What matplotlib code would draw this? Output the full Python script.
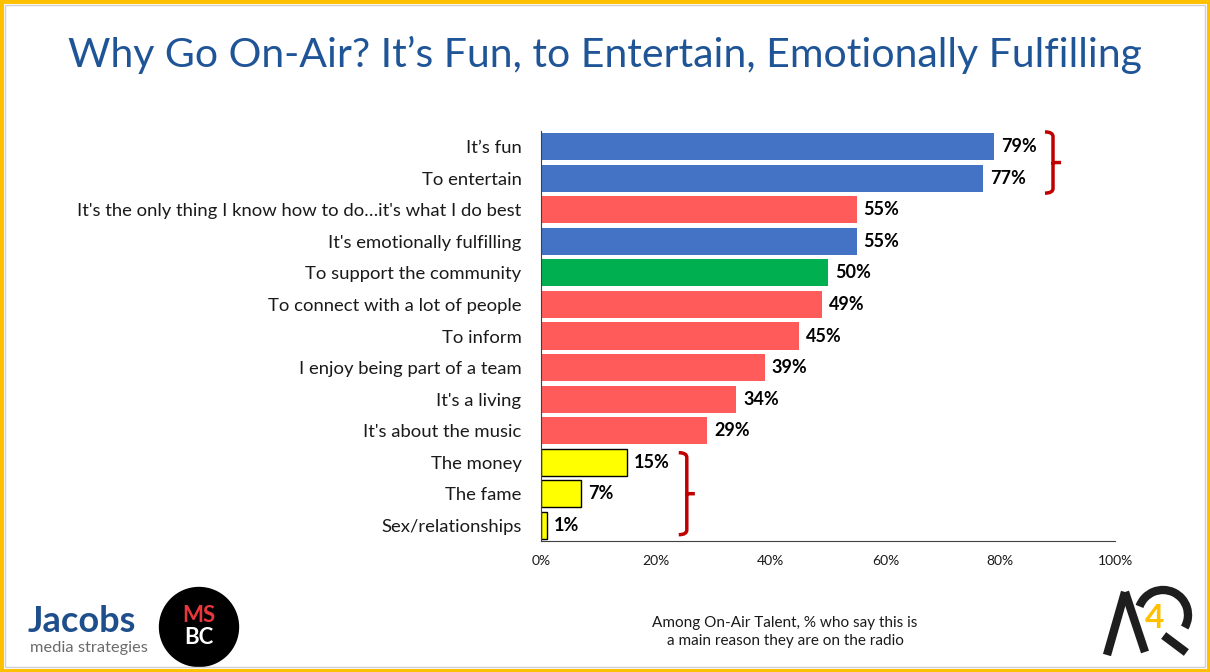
import matplotlib.pyplot as plt
from matplotlib.patches import Rectangle, Circle, Arc
from matplotlib.path import Path
from matplotlib.patches import PathPatch

plt.rcParams['font.family'] = ['Lato', 'DejaVu Sans']

# Data
reasons = ["It\u2019s fun", "To entertain",
           "It's the only thing I know how to do\u2026it's what I do best",
           "It's emotionally fulfilling", "To support the community",
           "To connect with a lot of people", "To inform",
           "I enjoy being part of a team", "It's a living",
           "It's about the music", "The money", "The fame",
           "Sex/relationships"]
values = [79, 77, 55, 55, 50, 49, 45, 39, 34, 29, 15, 7, 1]
groups = ['blue', 'blue', 'red', 'blue', 'green', 'red', 'red', 'red',
          'red', 'red', 'yellow', 'yellow', 'yellow']
ticks = [0, 20, 40, 60, 80, 100]

palette = {'blue': '#4472C4', 'red': '#FF5B5B', 'green': '#00B050',
           'yellow': '#FFFF00'}

fig = plt.figure(figsize=(12.1, 6.72), dpi=100)
W, H = 1210, 672

# border
fig.patches.append(Rectangle((0, 0), 1, 1, transform=fig.transFigure,
                             fill=False, edgecolor='#FFC000', linewidth=5))
fig.patches.append(Rectangle((5 / W, 5 / H), 1 - 10 / W, 1 - 10 / H,
                             transform=fig.transFigure, fill=False,
                             edgecolor='#D0D0D0', linewidth=1))

fig.text(0.5, 1 - 55 / H, "Why Go On-Air? It\u2019s Fun, to Entertain, Emotionally Fulfilling",
         ha='center', va='center', fontsize=29.5, color='#1F5597')

ax = fig.add_axes([541 / W, 1 - 541 / H, 574 / W, 410 / H])
y = list(range(len(reasons)))
for i, (v, g) in enumerate(zip(values, groups)):
    ax.barh(i, v, height=0.86, color=palette[g],
            edgecolor='black' if g == 'yellow' else 'none', linewidth=1)
    ax.text(v + 1.2, i, f"{v}%", va='center', ha='left', fontsize=13,
            fontweight='bold', color='black')

ax.set_ylim(len(reasons) - 0.5, -0.5)
ax.set_xlim(0, 100)
ax.set_yticks(y)
ax.set_yticklabels(reasons, fontsize=13.3, color='#1a1a1a')
ax.set_xticks(ticks)
ax.set_xticklabels([f"{t}%" for t in ticks], fontsize=10, color='#1a1a1a')
ax.tick_params(axis='y', length=0, pad=14)
ax.tick_params(axis='x', length=0, pad=10)
for s in ['top', 'right']:
    ax.spines[s].set_visible(False)
ax.spines['left'].set_color('#404040')
ax.spines['bottom'].set_color('#404040')


def bracket(ax, x, y0, y1, w):
    mid = (y0 + y1) / 2
    verts = [(x, y0), (x + w, y0), (x + w, y0 + 0.15),
             (x + w, mid - 0.1), (x + w, mid),
             (x + 2 * w, mid), (x + w, mid),
             (x + w, mid + 0.1), (x + w, y1 - 0.15),
             (x + w, y1), (x, y1)]
    codes = [Path.MOVETO, Path.CURVE3, Path.CURVE3, Path.LINETO, Path.LINETO,
             Path.LINETO, Path.MOVETO, Path.LINETO, Path.LINETO,
             Path.CURVE3, Path.CURVE3]
    ax.add_patch(PathPatch(Path(verts, codes), fill=False, edgecolor='#C00000',
                           linewidth=2.5, clip_on=False))


bracket(ax, values[0] + 8.8, -0.47, 1.47, 1.4)
bracket(ax, values[10] + 9.0, 9.7, 12.3, 1.4)

fig.text(785 / W, 1 - 632 / H,
         "Among On-Air Talent, % who say this is\na main reason they are on the radio",
         ha='center', va='center', fontsize=11, color='#1a1a1a', linespacing=1.3)

# logos (approximations)
fig.text(28 / W, 1 - 621 / H, "Jacobs", fontsize=26, fontweight='bold',
         color='#1F4E8C', ha='left', va='center')
fig.text(30 / W, 1 - 648 / H, "media strategies", fontsize=11.8,
         color='#6b6b6b', ha='left', va='center')

lax = fig.add_axes([158 / W, 1 - 668 / H, 82 / W, 82 / H])
lax.set_xlim(0, 1)
lax.set_ylim(0, 1)
lax.set_aspect('equal')
lax.axis('off')
lax.add_patch(Circle((0.5, 0.5), 0.49, facecolor='black'))
lax.text(0.5, 0.64, "MS", color='#E8383D', fontsize=16, fontweight='bold',
         ha='center', va='center')
lax.text(0.5, 0.37, "BC", color='white', fontsize=16, fontweight='bold',
         ha='center', va='center')

aax = fig.add_axes([1095 / W, 1 - 660 / H, 110 / W, 80 / H])
aax.set_xlim(0, 110)
aax.set_ylim(0, 80)
aax.axis('off')
aax.plot([12, 30], [5, 68], color='#1e1e1e', linewidth=6, solid_capstyle='butt')
aax.plot([30, 50], [68, 8], color='#1e1e1e', linewidth=6, solid_capstyle='butt')
aax.add_patch(Arc((68, 45), 50, 50, theta1=-30, theta2=160, color='#1e1e1e',
                  linewidth=6))
aax.plot([72, 88], [22, 10], color='#1e1e1e', linewidth=6)
aax.text(60, 42, "4", color='#FFC000', fontsize=24, fontweight='bold',
         ha='center', va='center')

fig.savefig('out.png', dpi=100)
